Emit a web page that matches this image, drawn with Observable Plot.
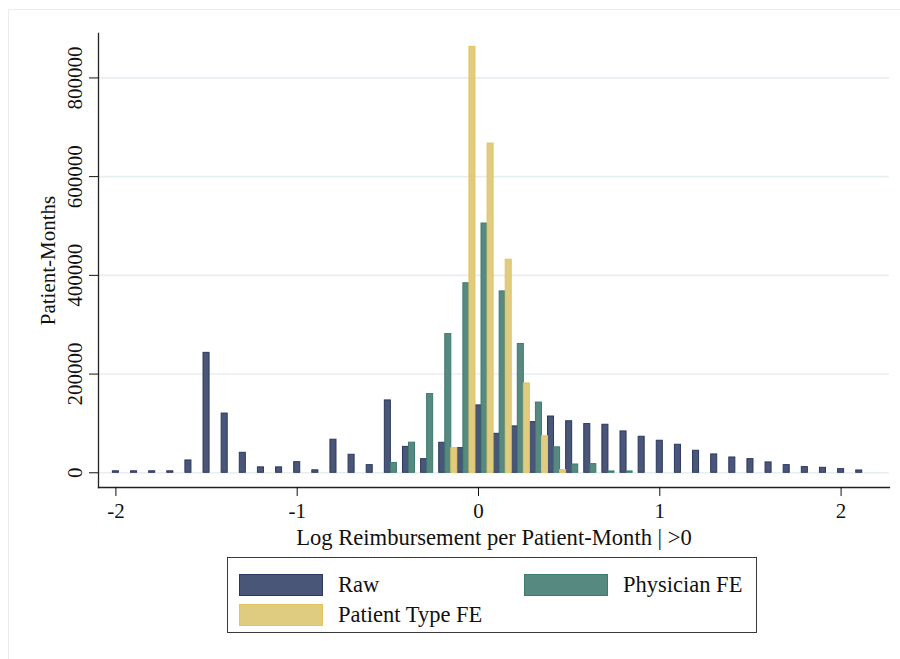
<!DOCTYPE html>
<html>
<head>
<meta charset="utf-8">
<script src="https://cdn.jsdelivr.net/npm/d3@7"></script>
<script src="https://cdn.jsdelivr.net/npm/@observablehq/plot@0.6"></script>
<style>
  html, body { margin: 0; padding: 0; background: #fff; }
  body { width: 900px; height: 659px; position: relative; overflow: hidden;
         font-family: "Liberation Serif", "Times New Roman", Times, serif; color: #111; }
  #outline { position: absolute; left: 8px; top: 9px; width: 1000px; height: 1000px;
             border-left: 1px solid #ececec; border-top: 1px solid #ececec; pointer-events: none; }
  #chart { position: absolute; left: 0; top: 0; }
  #legend { position: absolute; left: 227px; top: 557px; width: 530px; height: 76px;
            box-sizing: border-box; border: 1px solid #3a3a3a; background: #fff; }
  .item { position: absolute; display: flex; align-items: center; font-size: 22.5px; }
  .sw { width: 84px; height: 22px; box-sizing: border-box; border: 1.5px solid; margin-right: 15px; }
</style>
</head>
<body>
<div id="outline"></div>
<div id="chart"></div>
<div id="legend"></div>
<script>
// Bin centres (log reimbursement) and patient-month counts per series
const rawBins = [-2.0, -1.9, -1.8, -1.7, -1.6, -1.5, -1.4, -1.3, -1.2, -1.1, -1.0, -0.9, -0.8, -0.7,
                 -0.6, -0.5, -0.4, -0.3, -0.2, -0.1, 0.0, 0.1, 0.2, 0.3, 0.4, 0.5, 0.6, 0.7,
                 0.8, 0.9, 1.0, 1.1, 1.2, 1.3, 1.4, 1.5, 1.6, 1.7, 1.8, 1.9, 2.0, 2.1];
const rawCounts = [3000, 3000, 3000, 3000, 25000, 243000, 120000, 40500, 11000, 11000, 21600, 5000, 67000, 36500,
                   15500, 146600, 52500, 27700, 60800, 50000, 136500, 79000, 94000, 102700, 114000, 104400, 98700, 97300,
                   83800, 73000, 64900, 56800, 44600, 37200, 31000, 27700, 21000, 15500, 11500, 10100, 7400, 4700];

const physicianBins = [-0.5, -0.4, -0.3, -0.2, -0.1, 0.0, 0.1, 0.2, 0.3, 0.4, 0.5, 0.6, 0.7, 0.8];
const physicianCounts = [20000, 61000, 159500, 281000, 384000, 505000, 367500, 261000, 142300, 51600, 16800, 17600, 2700, 2700];

const patientBins = [-0.1, 0.0, 0.1, 0.2, 0.3, 0.4, 0.5];
const patientCounts = [50000, 863000, 667000, 431700, 181000, 74000, 5400];

const seriesNames = ["Raw", "Physician FE", "Patient Type FE"];
const seriesFill = ["#4a5677", "#568a80", "#e0cc80"];
const seriesStroke = ["#2b3860", "#3e7a6e", "#e2c65c"];

const yTicks = [0, 200000, 400000, 600000, 800000];
const xTicks = [-2, -1, 0, 1, 2];
const xTitle = "Log Reimbursement per Patient-Month | >0";
const yTitle = "Patient-Months";

// Three bars per bin, side by side: Patient Type FE | Raw | Physician FE
const barW = 1 / 30;
function rows(bins, counts, series, shift) {
  return bins.map((b, i) => ({
    x1: b + shift - barW / 2,
    x2: b + shift + barW / 2,
    y: counts[i],
    series
  }));
}
const bars = [
  ...rows(rawBins, rawCounts, "Raw", 0),
  ...rows(physicianBins, physicianCounts, "Physician FE", barW),
  ...rows(patientBins, patientCounts, "Patient Type FE", -barW)
];

const chart = Plot.plot({
  width: 900,
  height: 552,
  marginLeft: 98,
  marginRight: 11,
  marginTop: 33,
  marginBottom: 65,
  style: {
    fontFamily: "'Liberation Serif', 'Times New Roman', Times, serif",
    fontSize: "21px",
    color: "#111",
    background: "transparent"
  },
  x: { domain: [-2.096, 2.267] },
  y: { domain: [-29800, 890000] },
  color: { domain: seriesNames, range: seriesFill },
  marks: [
    Plot.gridY(yTicks, { stroke: "#e6eef2", strokeOpacity: 1, strokeWidth: 1.6 }),
    Plot.rectY(bars, {
      x1: "x1", x2: "x2", y: "y", fill: "series",
      stroke: d => seriesStroke[seriesNames.indexOf(d.series)],
      strokeWidth: 1
    }),
    Plot.frame({ anchor: "left", stroke: "#222", strokeWidth: 1.3 }),
    Plot.frame({ anchor: "bottom", stroke: "#222", strokeWidth: 1.3 }),
    Plot.axisX(xTicks, {
      tickSize: 9, tickPadding: 7, tickFormat: d => (d < 0 ? "-" + Math.abs(d) : String(d)),
      fontSize: 21, label: null
    }),
    Plot.axisY(yTicks, {
      tickSize: 9, tickPadding: 8, tickFormat: d3.format("d"), tickRotate: -90,
      textAnchor: "middle", lineAnchor: "bottom",
      fontSize: 21, label: null
    }),
    // Axis titles
    Plot.text([xTitle], {
      text: d => d, frameAnchor: "bottom", dy: 50, lineAnchor: "middle",
      fontSize: 22.6, fill: "#111"
    }),
    Plot.text([yTitle], {
      text: d => d, frameAnchor: "left", dx: -50, rotate: -90,
      textAnchor: "middle", lineAnchor: "middle", fontSize: 21, fill: "#111"
    })
  ]
});
document.getElementById("chart").appendChild(chart);

// Legend below the plot
const legend = document.getElementById("legend");
const legendPos = [
  { name: "Raw", left: 11, top: 14 },
  { name: "Physician FE", left: 296, top: 14 },
  { name: "Patient Type FE", left: 11, top: 44 }
];
legendPos.forEach(p => {
  const i = seriesNames.indexOf(p.name);
  const item = document.createElement("div");
  item.className = "item";
  item.style.left = p.left + "px";
  item.style.top = p.top + "px";
  const sw = document.createElement("div");
  sw.className = "sw";
  sw.style.background = seriesFill[i];
  sw.style.borderColor = seriesStroke[i];
  const label = document.createElement("span");
  label.textContent = p.name;
  item.appendChild(sw);
  item.appendChild(label);
  legend.appendChild(item);
});
</script>
</body>
</html>
